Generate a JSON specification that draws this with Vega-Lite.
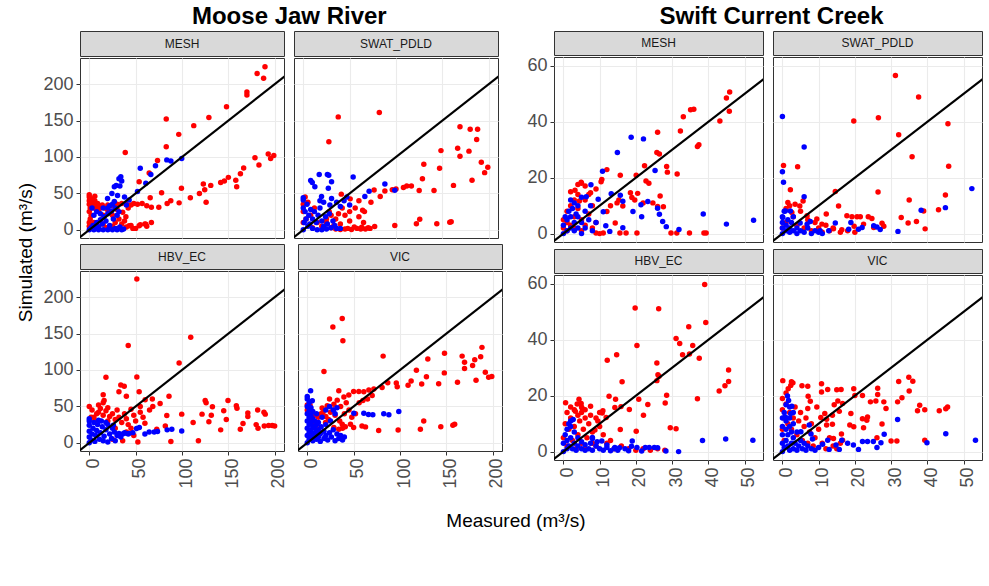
{
"$schema": "https://vega.github.io/schema/vega-lite/v6.json",
"background": "white",
"padding": {"left": 17, "top": 4, "right": 0, "bottom": 0},
"config": {
  "font": "Liberation Sans",
  "view": {"stroke": "#333333", "strokeWidth": 1},
  "axis": {"domain": false, "gridColor": "#ebebeb", "gridWidth": 1.1, "tickColor": "#333333", "tickSize": 4, "labelPadding": 3, "labelColor": "#4d4d4d", "labelFont": "Liberation Sans", "labelFontSize": 18, "title": null}
},
"datasets": {
  "mj_line": [{"obs": -12, "sim": -12}, {"obs": 215, "sim": 215}],
  "sc_line": [{"obs": -3.5, "sim": -3.5}, {"obs": 56, "sim": 56}],
  "mj_MESH": [
    {"obs":189.5,"sim":223.7,"grp":"A"},{"obs":181,"sim":214.6,"grp":"A"},{"obs":188,"sim":208,"grp":"A"},{"obs":170,"sim":189,"grp":"A"},{"obs":170,"sim":185,"grp":"A"},{"obs":148,"sim":169,"grp":"A"},{"obs":129,"sim":154,"grp":"A"},{"obs":112.7,"sim":143,"grp":"A"},{"obs":96.5,"sim":131,"grp":"A"},{"obs":83,"sim":152,"grp":"A"},{"obs":83,"sim":114,"grp":"A"},{"obs":73.6,"sim":95,"grp":"A"},{"obs":64.6,"sim":78,"grp":"A"},{"obs":38.8,"sim":106,"grp":"A"},{"obs":53.8,"sim":66,"grp":"A"},{"obs":78,"sim":51,"grp":"A"},{"obs":99.4,"sim":57,"grp":"A"},{"obs":65.7,"sim":44,"grp":"A"},{"obs":87.9,"sim":40,"grp":"A"},{"obs":96.9,"sim":37,"grp":"A"},{"obs":109,"sim":44,"grp":"A"},{"obs":118.8,"sim":50,"grp":"A"},{"obs":123,"sim":63,"grp":"A"},{"obs":124.5,"sim":55,"grp":"A"},{"obs":126,"sim":38,"grp":"A"},{"obs":131,"sim":61,"grp":"A"},{"obs":141.7,"sim":65,"grp":"A"},{"obs":145.7,"sim":67,"grp":"A"},{"obs":150,"sim":72,"grp":"A"},{"obs":158,"sim":68,"grp":"A"},{"obs":159,"sim":59,"grp":"A"},{"obs":163,"sim":77,"grp":"A"},{"obs":166.5,"sim":85,"grp":"A"},{"obs":178.7,"sim":99,"grp":"A"},{"obs":183,"sim":89,"grp":"A"},{"obs":193,"sim":104,"grp":"A"},{"obs":195.6,"sim":98,"grp":"A"},{"obs":199,"sim":102,"grp":"A"},
    {"obs":20,"sim":34,"grp":"A"},{"obs":25,"sim":33,"grp":"A"},{"obs":30,"sim":35,"grp":"A"},{"obs":35,"sim":36,"grp":"A"},{"obs":40,"sim":35,"grp":"A"},{"obs":45,"sim":34,"grp":"A"},{"obs":48,"sim":36,"grp":"A"},{"obs":52,"sim":35,"grp":"A"},{"obs":57,"sim":36,"grp":"A"},{"obs":62,"sim":33,"grp":"A"},{"obs":67,"sim":31,"grp":"A"},{"obs":75,"sim":31,"grp":"A"},{"obs":84,"sim":36,"grp":"A"},{"obs":42,"sim":30,"grp":"A"},{"obs":36,"sim":24,"grp":"A"},{"obs":30,"sim":28,"grp":"A"},
    {"obs":20,"sim":3,"grp":"A"},{"obs":25,"sim":5,"grp":"A"},{"obs":30,"sim":2,"grp":"A"},{"obs":35,"sim":8,"grp":"A"},{"obs":40,"sim":4,"grp":"A"},{"obs":45,"sim":6,"grp":"A"},{"obs":50,"sim":2,"grp":"A"},{"obs":55,"sim":7,"grp":"A"},{"obs":60,"sim":8,"grp":"A"},{"obs":62,"sim":5,"grp":"A"},{"obs":67,"sim":10,"grp":"A"},{"obs":43,"sim":5.5,"grp":"A"},{"obs":53.8,"sim":5.5,"grp":"A"},{"obs":61,"sim":7.8,"grp":"A"},{"obs":39.5,"sim":18,"grp":"A"},{"obs":47,"sim":2,"grp":"A"},{"obs":38,"sim":12,"grp":"A"},{"obs":32,"sim":15,"grp":"A"},{"obs":28,"sim":10,"grp":"A"},{"obs":25,"sim":20,"grp":"A"},
    {"obs":0,"sim":48,"grp":"A"},{"obs":0,"sim":45,"grp":"A"},{"obs":0,"sim":40,"grp":"A"},{"obs":0,"sim":35,"grp":"A"},{"obs":1,"sim":30,"grp":"A"},{"obs":0,"sim":25,"grp":"A"},{"obs":2,"sim":20,"grp":"A"},{"obs":1,"sim":15,"grp":"A"},{"obs":0,"sim":10,"grp":"A"},{"obs":3,"sim":42,"grp":"A"},{"obs":2,"sim":38,"grp":"A"},{"obs":5,"sim":30,"grp":"A"},{"obs":8,"sim":28,"grp":"A"},{"obs":10,"sim":25,"grp":"A"},{"obs":12,"sim":30,"grp":"A"},{"obs":15,"sim":20,"grp":"A"},{"obs":5,"sim":10,"grp":"A"},{"obs":10,"sim":5,"grp":"A"},{"obs":15,"sim":8,"grp":"A"},{"obs":18,"sim":3,"grp":"A"},{"obs":3,"sim":3,"grp":"A"},{"obs":6,"sim":46,"grp":"A"},{"obs":0,"sim":5,"grp":"A"},{"obs":4,"sim":35,"grp":"A"},{"obs":7,"sim":33,"grp":"A"},{"obs":10,"sim":32,"grp":"A"},{"obs":14,"sim":34,"grp":"A"},{"obs":17,"sim":30,"grp":"A"},{"obs":20,"sim":27,"grp":"A"},{"obs":6,"sim":40,"grp":"A"},{"obs":9,"sim":36,"grp":"A"},
    {"obs":0,"sim":0,"grp":"B"},{"obs":2,"sim":3,"grp":"B"},{"obs":4,"sim":6,"grp":"B"},{"obs":6,"sim":2,"grp":"B"},{"obs":8,"sim":10,"grp":"B"},{"obs":10,"sim":4,"grp":"B"},{"obs":12,"sim":14,"grp":"B"},{"obs":14,"sim":8,"grp":"B"},{"obs":16,"sim":18,"grp":"B"},{"obs":18,"sim":12,"grp":"B"},{"obs":20,"sim":22,"grp":"B"},{"obs":22,"sim":6,"grp":"B"},{"obs":24,"sim":26,"grp":"B"},{"obs":26,"sim":15,"grp":"B"},{"obs":28,"sim":30,"grp":"B"},{"obs":30,"sim":20,"grp":"B"},{"obs":32,"sim":25,"grp":"B"},{"obs":5,"sim":20,"grp":"B"},{"obs":8,"sim":25,"grp":"B"},{"obs":3,"sim":30,"grp":"B"},{"obs":12,"sim":22,"grp":"B"},{"obs":15,"sim":30,"grp":"B"},{"obs":20,"sim":30,"grp":"B"},{"obs":25,"sim":35,"grp":"B"},{"obs":10,"sim":0,"grp":"B"},{"obs":15,"sim":0,"grp":"B"},{"obs":20,"sim":0,"grp":"B"},{"obs":25,"sim":0,"grp":"B"},{"obs":30,"sim":0,"grp":"B"},{"obs":35,"sim":0,"grp":"B"},{"obs":37,"sim":1,"grp":"B"},{"obs":5,"sim":0,"grp":"B"},{"obs":28,"sim":2,"grp":"B"},{"obs":33,"sim":4,"grp":"B"},
    {"obs":34,"sim":73,"grp":"B"},{"obs":32,"sim":70,"grp":"B"},{"obs":35,"sim":67,"grp":"B"},{"obs":27,"sim":59,"grp":"B"},{"obs":29,"sim":61,"grp":"B"},{"obs":33,"sim":60,"grp":"B"},{"obs":24.4,"sim":50,"grp":"B"},{"obs":30.5,"sim":47,"grp":"B"},{"obs":27,"sim":39,"grp":"B"},{"obs":19.7,"sim":43,"grp":"B"},{"obs":55,"sim":84.5,"grp":"B"},{"obs":66.4,"sim":76,"grp":"B"},{"obs":71.4,"sim":88,"grp":"B"},{"obs":61,"sim":64,"grp":"B"},{"obs":52,"sim":52.5,"grp":"B"},{"obs":83.6,"sim":96,"grp":"B"},{"obs":88,"sim":94.5,"grp":"B"},{"obs":99.7,"sim":98,"grp":"B"},{"obs":43,"sim":41,"grp":"B"},{"obs":40,"sim":34,"grp":"B"},{"obs":22,"sim":33,"grp":"B"},{"obs":38,"sim":45,"grp":"B"}
  ],
  "mj_SWAT": [
    {"obs":37.7,"sim":155,"grp":"A"},{"obs":82,"sim":161,"grp":"A"},{"obs":27.6,"sim":121,"grp":"A"},{"obs":169,"sim":141.5,"grp":"A"},{"obs":180,"sim":138,"grp":"A"},{"obs":188,"sim":138,"grp":"A"},{"obs":187,"sim":124,"grp":"A"},{"obs":166.5,"sim":112,"grp":"A"},{"obs":169,"sim":101,"grp":"A"},{"obs":178.7,"sim":108,"grp":"A"},{"obs":148.5,"sim":108.7,"grp":"A"},{"obs":130,"sim":90,"grp":"A"},{"obs":147,"sim":84.5,"grp":"A"},{"obs":192,"sim":92.7,"grp":"A"},{"obs":199,"sim":86,"grp":"A"},{"obs":195.6,"sim":78.5,"grp":"A"},{"obs":182,"sim":68,"grp":"A"},{"obs":162,"sim":61,"grp":"A"},{"obs":128.5,"sim":70,"grp":"A"},{"obs":141,"sim":54,"grp":"A"},{"obs":125,"sim":54,"grp":"A"},{"obs":116.6,"sim":60,"grp":"A"},{"obs":108,"sim":58,"grp":"A"},{"obs":111.6,"sim":60,"grp":"A"},{"obs":96,"sim":55,"grp":"A"},{"obs":88,"sim":53.4,"grp":"A"},{"obs":100,"sim":56,"grp":"A"},{"obs":83,"sim":45.6,"grp":"A"},{"obs":76.4,"sim":54.8,"grp":"A"},{"obs":73,"sim":38,"grp":"A"},{"obs":64,"sim":27,"grp":"A"},{"obs":60,"sim":40,"grp":"A"},{"obs":50.6,"sim":42.5,"grp":"A"},{"obs":41,"sim":49,"grp":"A"},{"obs":125.6,"sim":14.6,"grp":"A"},{"obs":122,"sim":8.2,"grp":"A"},{"obs":144,"sim":8.2,"grp":"A"},{"obs":158,"sim":10.5,"grp":"A"},{"obs":159.5,"sim":11.2,"grp":"A"},{"obs":98.7,"sim":6,"grp":"A"},{"obs":77,"sim":4.6,"grp":"A"},{"obs":63,"sim":3.7,"grp":"A"},
    {"obs":20,"sim":5,"grp":"A"},{"obs":25,"sim":10,"grp":"A"},{"obs":30,"sim":3,"grp":"A"},{"obs":35,"sim":15,"grp":"A"},{"obs":40,"sim":8,"grp":"A"},{"obs":45,"sim":20,"grp":"A"},{"obs":50,"sim":12,"grp":"A"},{"obs":55,"sim":4,"grp":"A"},{"obs":60,"sim":18,"grp":"A"},{"obs":65,"sim":10,"grp":"A"},{"obs":70,"sim":3,"grp":"A"},{"obs":50,"sim":25,"grp":"A"},{"obs":42,"sim":30,"grp":"A"},{"obs":38,"sim":22,"grp":"A"},{"obs":30,"sim":20,"grp":"A"},{"obs":25,"sim":15,"grp":"A"},{"obs":15,"sim":10,"grp":"A"},{"obs":10,"sim":3,"grp":"A"},{"obs":56,"sim":30,"grp":"A"},{"obs":48,"sim":2,"grp":"A"},{"obs":66,"sim":25,"grp":"A"},{"obs":58,"sim":2,"grp":"A"},{"obs":62,"sim":1,"grp":"A"},{"obs":33,"sim":6,"grp":"A"},{"obs":28,"sim":25,"grp":"A"},{"obs":45,"sim":1,"grp":"A"},{"obs":52,"sim":0.5,"grp":"A"},{"obs":67,"sim":1,"grp":"A"},{"obs":72,"sim":2,"grp":"A"},{"obs":35,"sim":1,"grp":"A"},{"obs":40,"sim":0.5,"grp":"A"},
    {"obs":0,"sim":35,"grp":"A"},{"obs":2,"sim":45,"grp":"A"},{"obs":0,"sim":25,"grp":"A"},{"obs":5,"sim":38,"grp":"A"},{"obs":3,"sim":15,"grp":"A"},{"obs":0,"sim":10,"grp":"A"},{"obs":8,"sim":20,"grp":"A"},{"obs":12,"sim":30,"grp":"A"},
    {"obs":17.2,"sim":75.8,"grp":"B"},{"obs":26,"sim":76,"grp":"B"},{"obs":27.5,"sim":75,"grp":"B"},{"obs":9.7,"sim":65,"grp":"B"},{"obs":8,"sim":67.6,"grp":"B"},{"obs":53.8,"sim":72.6,"grp":"B"},{"obs":88,"sim":63,"grp":"B"},{"obs":71,"sim":53,"grp":"B"},{"obs":98.7,"sim":54.3,"grp":"B"},{"obs":66.4,"sim":45.7,"grp":"B"},{"obs":30.5,"sim":66,"grp":"B"},{"obs":27,"sim":57,"grp":"B"},{"obs":19.7,"sim":45.7,"grp":"B"},{"obs":12.5,"sim":59,"grp":"B"},{"obs":0,"sim":44,"grp":"B"},{"obs":0,"sim":41,"grp":"B"},{"obs":30.5,"sim":43,"grp":"B"},{"obs":28.7,"sim":34,"grp":"B"},{"obs":50,"sim":34,"grp":"B"},{"obs":40,"sim":32,"grp":"B"},
    {"obs":0,"sim":30,"grp":"B"},{"obs":2,"sim":25,"grp":"B"},{"obs":4,"sim":35,"grp":"B"},{"obs":6,"sim":20,"grp":"B"},{"obs":8,"sim":28,"grp":"B"},{"obs":10,"sim":15,"grp":"B"},{"obs":12,"sim":25,"grp":"B"},{"obs":14,"sim":10,"grp":"B"},{"obs":16,"sim":20,"grp":"B"},{"obs":18,"sim":30,"grp":"B"},{"obs":20,"sim":12,"grp":"B"},{"obs":22,"sim":5,"grp":"B"},{"obs":24,"sim":18,"grp":"B"},{"obs":26,"sim":8,"grp":"B"},{"obs":28,"sim":22,"grp":"B"},{"obs":30,"sim":3,"grp":"B"},{"obs":32,"sim":12,"grp":"B"},{"obs":34,"sim":6,"grp":"B"},{"obs":36,"sim":2,"grp":"B"},{"obs":5,"sim":5,"grp":"B"},{"obs":10,"sim":2,"grp":"B"},{"obs":15,"sim":0,"grp":"B"},{"obs":20,"sim":0,"grp":"B"},{"obs":25,"sim":1,"grp":"B"},{"obs":1,"sim":10,"grp":"B"},{"obs":3,"sim":15,"grp":"B"},{"obs":7,"sim":8,"grp":"B"},{"obs":40,"sim":2,"grp":"B"},{"obs":44,"sim":40,"grp":"B"},{"obs":47,"sim":45,"grp":"B"},{"obs":22,"sim":38,"grp":"B"},{"obs":36,"sim":38,"grp":"B"},{"obs":18,"sim":40,"grp":"B"},{"obs":0,"sim":0,"grp":"B"}
  ],
  "mj_HBV": [
    {"obs":51.3,"sim":224.7,"grp":"A"},{"obs":109.4,"sim":145,"grp":"A"},{"obs":42,"sim":133.6,"grp":"A"},{"obs":96.9,"sim":109.7,"grp":"A"},{"obs":18,"sim":90,"grp":"A"},{"obs":51.3,"sim":90.4,"grp":"A"},{"obs":34,"sim":79.4,"grp":"A"},{"obs":37.7,"sim":77.6,"grp":"A"},{"obs":32,"sim":70,"grp":"A"},{"obs":40,"sim":63.8,"grp":"A"},{"obs":53.8,"sim":70,"grp":"A"},{"obs":15,"sim":66,"grp":"A"},{"obs":16,"sim":58,"grp":"A"},{"obs":68,"sim":60,"grp":"A"},{"obs":60.3,"sim":59,"grp":"A"},{"obs":86,"sim":64,"grp":"A"},{"obs":76.4,"sim":54,"grp":"A"},{"obs":68.5,"sim":50,"grp":"A"},{"obs":99.7,"sim":39.4,"grp":"A"},{"obs":112,"sim":28,"grp":"A"},{"obs":125,"sim":58,"grp":"A"},{"obs":126,"sim":55,"grp":"A"},{"obs":132.8,"sim":49.5,"grp":"A"},{"obs":131.6,"sim":38,"grp":"A"},{"obs":121.6,"sim":39.4,"grp":"A"},{"obs":129,"sim":29,"grp":"A"},{"obs":145,"sim":44,"grp":"A"},{"obs":149.6,"sim":58,"grp":"A"},{"obs":147.8,"sim":32,"grp":"A"},{"obs":158.6,"sim":51,"grp":"A"},{"obs":159.3,"sim":47.6,"grp":"A"},{"obs":171,"sim":40.8,"grp":"A"},{"obs":171,"sim":36,"grp":"A"},{"obs":165.8,"sim":26.5,"grp":"A"},{"obs":162.9,"sim":18.7,"grp":"A"},{"obs":181.6,"sim":45,"grp":"A"},{"obs":188.4,"sim":42,"grp":"A"},{"obs":189.8,"sim":39.4,"grp":"A"},{"obs":188.7,"sim":23,"grp":"A"},{"obs":182,"sim":20,"grp":"A"},{"obs":193.4,"sim":23.7,"grp":"A"},{"obs":197.3,"sim":23.7,"grp":"A"},{"obs":199.9,"sim":23,"grp":"A"},{"obs":180,"sim":25,"grp":"A"},{"obs":141.7,"sim":17.8,"grp":"A"},{"obs":82,"sim":23,"grp":"A"},{"obs":83.6,"sim":37.5,"grp":"A"},{"obs":52.4,"sim":1.2,"grp":"A"},{"obs":88,"sim":1.7,"grp":"A"},{"obs":117.7,"sim":3,"grp":"A"},{"obs":72.8,"sim":18.7,"grp":"A"},{"obs":65,"sim":45,"grp":"A"},
    {"obs":0,"sim":50,"grp":"A"},{"obs":3,"sim":45,"grp":"A"},{"obs":5,"sim":35,"grp":"A"},{"obs":8,"sim":40,"grp":"A"},{"obs":10,"sim":42,"grp":"A"},{"obs":12,"sim":47,"grp":"A"},{"obs":15,"sim":38,"grp":"A"},{"obs":18,"sim":44,"grp":"A"},{"obs":20,"sim":30,"grp":"A"},{"obs":22,"sim":36,"grp":"A"},{"obs":25,"sim":40,"grp":"A"},{"obs":28,"sim":32,"grp":"A"},{"obs":30,"sim":45,"grp":"A"},{"obs":32,"sim":35,"grp":"A"},{"obs":35,"sim":28,"grp":"A"},{"obs":38,"sim":40,"grp":"A"},{"obs":40,"sim":33,"grp":"A"},{"obs":42,"sim":25,"grp":"A"},{"obs":45,"sim":46,"grp":"A"},{"obs":48,"sim":38,"grp":"A"},{"obs":50,"sim":30,"grp":"A"},{"obs":55,"sim":42,"grp":"A"},{"obs":58,"sim":35,"grp":"A"},{"obs":60,"sim":27,"grp":"A"},{"obs":28,"sim":20,"grp":"A"},{"obs":33,"sim":10,"grp":"A"},{"obs":36,"sim":3,"grp":"A"},{"obs":25,"sim":5,"grp":"A"},{"obs":40,"sim":15,"grp":"A"},{"obs":45,"sim":20,"grp":"A"},{"obs":48,"sim":10,"grp":"A"},{"obs":15,"sim":55,"grp":"A"},{"obs":20,"sim":48,"grp":"A"},{"obs":10,"sim":52,"grp":"A"},{"obs":6,"sim":30,"grp":"A"},{"obs":2,"sim":35,"grp":"A"},{"obs":55,"sim":50,"grp":"A"},
    {"obs":0,"sim":0,"grp":"B"},{"obs":0,"sim":8,"grp":"B"},{"obs":0,"sim":16,"grp":"B"},{"obs":0,"sim":24,"grp":"B"},{"obs":0,"sim":30,"grp":"B"},{"obs":0,"sim":33,"grp":"B"},{"obs":2,"sim":4,"grp":"B"},{"obs":3,"sim":12,"grp":"B"},{"obs":4,"sim":20,"grp":"B"},{"obs":5,"sim":28,"grp":"B"},{"obs":6,"sim":2,"grp":"B"},{"obs":7,"sim":10,"grp":"B"},{"obs":8,"sim":17,"grp":"B"},{"obs":9,"sim":25,"grp":"B"},{"obs":10,"sim":31,"grp":"B"},{"obs":11,"sim":5,"grp":"B"},{"obs":12,"sim":14,"grp":"B"},{"obs":14,"sim":22,"grp":"B"},{"obs":15,"sim":3,"grp":"B"},{"obs":16,"sim":9,"grp":"B"},{"obs":18,"sim":18,"grp":"B"},{"obs":20,"sim":25,"grp":"B"},{"obs":20,"sim":1,"grp":"B"},{"obs":22,"sim":12,"grp":"B"},{"obs":24,"sim":6,"grp":"B"},{"obs":25,"sim":20,"grp":"B"},{"obs":27,"sim":15,"grp":"B"},{"obs":28,"sim":3,"grp":"B"},{"obs":30,"sim":10,"grp":"B"},{"obs":32,"sim":13,"grp":"B"},{"obs":34,"sim":8,"grp":"B"},{"obs":36,"sim":12,"grp":"B"},{"obs":38,"sim":14,"grp":"B"},{"obs":40,"sim":13,"grp":"B"},{"obs":42,"sim":12,"grp":"B"},{"obs":18,"sim":28,"grp":"B"},{"obs":13,"sim":30,"grp":"B"},{"obs":26,"sim":24,"grp":"B"},
    {"obs":51,"sim":19.6,"grp":"B"},{"obs":54,"sim":21,"grp":"B"},{"obs":60,"sim":12.2,"grp":"B"},{"obs":64.6,"sim":15,"grp":"B"},{"obs":70,"sim":15,"grp":"B"},{"obs":73.6,"sim":15.5,"grp":"B"},{"obs":84,"sim":17.8,"grp":"B"},{"obs":89,"sim":18.7,"grp":"B"},{"obs":99.7,"sim":16.4,"grp":"B"},{"obs":43,"sim":13,"grp":"B"},{"obs":47,"sim":14,"grp":"B"}
  ],
  "mj_VIC": [
    {"obs":27.6,"sim":159,"grp":"A"},{"obs":37.7,"sim":170.5,"grp":"A"},{"obs":38.4,"sim":140,"grp":"A"},{"obs":81.8,"sim":119,"grp":"A"},{"obs":18,"sim":98,"grp":"A"},{"obs":130,"sim":115,"grp":"A"},{"obs":148,"sim":123,"grp":"A"},{"obs":167,"sim":119,"grp":"A"},{"obs":169.6,"sim":110.6,"grp":"A"},{"obs":169.6,"sim":102,"grp":"A"},{"obs":180.6,"sim":114,"grp":"A"},{"obs":178.3,"sim":106,"grp":"A"},{"obs":188.4,"sim":131,"grp":"A"},{"obs":187,"sim":118,"grp":"A"},{"obs":192,"sim":97,"grp":"A"},{"obs":195.6,"sim":90,"grp":"A"},{"obs":199,"sim":91,"grp":"A"},{"obs":182,"sim":86,"grp":"A"},{"obs":162,"sim":83,"grp":"A"},{"obs":147.8,"sim":96,"grp":"A"},{"obs":141.7,"sim":81,"grp":"A"},{"obs":128.5,"sim":90.6,"grp":"A"},{"obs":123.4,"sim":80.7,"grp":"A"},{"obs":117.7,"sim":99.6,"grp":"A"},{"obs":112,"sim":85,"grp":"A"},{"obs":108.7,"sim":79,"grp":"A"},{"obs":96,"sim":82,"grp":"A"},{"obs":97,"sim":77,"grp":"A"},{"obs":86.8,"sim":82.6,"grp":"A"},{"obs":80.7,"sim":76,"grp":"A"},{"obs":71.8,"sim":74,"grp":"A"},{"obs":66.4,"sim":72.5,"grp":"A"},{"obs":61,"sim":70,"grp":"A"},{"obs":55.6,"sim":70.5,"grp":"A"},{"obs":50,"sim":70.5,"grp":"A"},{"obs":44.8,"sim":65.6,"grp":"A"},{"obs":39.5,"sim":62.8,"grp":"A"},{"obs":34,"sim":71.5,"grp":"A"},{"obs":32.3,"sim":58.6,"grp":"A"},{"obs":28.7,"sim":53,"grp":"A"},{"obs":21.5,"sim":51,"grp":"A"},{"obs":16,"sim":47.7,"grp":"A"},{"obs":1.8,"sim":50.8,"grp":"A"},{"obs":159,"sim":25.6,"grp":"A"},{"obs":157,"sim":24,"grp":"A"},{"obs":144,"sim":22,"grp":"A"},{"obs":125.6,"sim":30,"grp":"A"},{"obs":122,"sim":18.7,"grp":"A"},{"obs":98,"sim":17.7,"grp":"A"},{"obs":77,"sim":16.8,"grp":"A"},{"obs":62.8,"sim":21.9,"grp":"A"},{"obs":59,"sim":23,"grp":"A"},{"obs":50,"sim":21,"grp":"A"},{"obs":46.6,"sim":25.6,"grp":"A"},{"obs":41,"sim":22,"grp":"A"},{"obs":37.7,"sim":25.6,"grp":"A"},{"obs":34,"sim":18.7,"grp":"A"},{"obs":28.7,"sim":21,"grp":"A"},{"obs":23,"sim":32,"grp":"A"},{"obs":19.7,"sim":27.9,"grp":"A"},{"obs":16.9,"sim":41.6,"grp":"A"},
    {"obs":0,"sim":45,"grp":"A"},{"obs":2,"sim":40,"grp":"A"},{"obs":4,"sim":30,"grp":"A"},{"obs":6,"sim":25,"grp":"A"},{"obs":8,"sim":38,"grp":"A"},{"obs":10,"sim":20,"grp":"A"},{"obs":12,"sim":35,"grp":"A"},{"obs":14,"sim":15,"grp":"A"},{"obs":3,"sim":52,"grp":"A"},{"obs":0,"sim":52,"grp":"A"},{"obs":5,"sim":10,"grp":"A"},{"obs":15,"sim":40,"grp":"A"},{"obs":20,"sim":36,"grp":"A"},{"obs":25,"sim":42,"grp":"A"},{"obs":30,"sim":38,"grp":"A"},{"obs":35,"sim":30,"grp":"A"},{"obs":38,"sim":20,"grp":"A"},{"obs":40,"sim":40,"grp":"A"},{"obs":45,"sim":45,"grp":"A"},{"obs":48,"sim":35,"grp":"A"},{"obs":52,"sim":40,"grp":"A"},{"obs":56,"sim":55,"grp":"A"},{"obs":60,"sim":58,"grp":"A"},{"obs":65,"sim":60,"grp":"A"},{"obs":70,"sim":65,"grp":"A"},{"obs":42,"sim":55,"grp":"A"},{"obs":36,"sim":50,"grp":"A"},{"obs":28,"sim":45,"grp":"A"},{"obs":24,"sim":60,"grp":"A"},
    {"obs":0,"sim":0,"grp":"B"},{"obs":0,"sim":10,"grp":"B"},{"obs":0,"sim":20,"grp":"B"},{"obs":0,"sim":30,"grp":"B"},{"obs":0,"sim":40,"grp":"B"},{"obs":0,"sim":50,"grp":"B"},{"obs":0,"sim":60,"grp":"B"},{"obs":2,"sim":5,"grp":"B"},{"obs":2,"sim":15,"grp":"B"},{"obs":2,"sim":25,"grp":"B"},{"obs":2,"sim":35,"grp":"B"},{"obs":2,"sim":45,"grp":"B"},{"obs":2,"sim":55,"grp":"B"},{"obs":4,"sim":8,"grp":"B"},{"obs":4,"sim":18,"grp":"B"},{"obs":4,"sim":28,"grp":"B"},{"obs":4,"sim":38,"grp":"B"},{"obs":4,"sim":48,"grp":"B"},{"obs":6,"sim":3,"grp":"B"},{"obs":6,"sim":13,"grp":"B"},{"obs":6,"sim":23,"grp":"B"},{"obs":6,"sim":33,"grp":"B"},{"obs":6,"sim":43,"grp":"B"},{"obs":8,"sim":10,"grp":"B"},{"obs":8,"sim":20,"grp":"B"},{"obs":8,"sim":30,"grp":"B"},{"obs":10,"sim":5,"grp":"B"},{"obs":10,"sim":15,"grp":"B"},{"obs":10,"sim":25,"grp":"B"},{"obs":10,"sim":40,"grp":"B"},{"obs":12,"sim":8,"grp":"B"},{"obs":12,"sim":18,"grp":"B"},{"obs":12,"sim":28,"grp":"B"},{"obs":14,"sim":2,"grp":"B"},{"obs":14,"sim":12,"grp":"B"},{"obs":15,"sim":22,"grp":"B"},{"obs":16,"sim":35,"grp":"B"},{"obs":18,"sim":6,"grp":"B"},{"obs":18,"sim":16,"grp":"B"},{"obs":20,"sim":10,"grp":"B"},{"obs":20,"sim":25,"grp":"B"},{"obs":22,"sim":4,"grp":"B"},{"obs":24,"sim":14,"grp":"B"},{"obs":25,"sim":30,"grp":"B"},{"obs":26,"sim":8,"grp":"B"},{"obs":28,"sim":18,"grp":"B"},{"obs":30,"sim":3,"grp":"B"},{"obs":30,"sim":40,"grp":"B"},{"obs":32,"sim":12,"grp":"B"},{"obs":34,"sim":6,"grp":"B"},{"obs":36,"sim":10,"grp":"B"},{"obs":38,"sim":4,"grp":"B"},{"obs":40,"sim":8,"grp":"B"},{"obs":28,"sim":45,"grp":"B"},{"obs":20,"sim":45,"grp":"B"},{"obs":24,"sim":50,"grp":"B"},{"obs":32,"sim":48,"grp":"B"},{"obs":3.6,"sim":71.6,"grp":"B"},{"obs":0,"sim":63.7,"grp":"B"},{"obs":5.4,"sim":57.8,"grp":"B"},
    {"obs":50.2,"sim":40.7,"grp":"B"},{"obs":61,"sim":40.7,"grp":"B"},{"obs":66,"sim":39,"grp":"B"},{"obs":70.7,"sim":38.4,"grp":"B"},{"obs":82.5,"sim":39.8,"grp":"B"},{"obs":88,"sim":38.4,"grp":"B"},{"obs":98.7,"sim":43,"grp":"B"}
  ],
  "sc_MESH": [
    {"obs":45.9,"sim":50.7,"grp":"A"},{"obs":45,"sim":48.5,"grp":"A"},{"obs":45.8,"sim":43.8,"grp":"A"},{"obs":43.2,"sim":40.3,"grp":"A"},{"obs":36,"sim":44.5,"grp":"A"},{"obs":35.1,"sim":44.3,"grp":"A"},{"obs":33.1,"sim":41.8,"grp":"A"},{"obs":32.3,"sim":36.7,"grp":"A"},{"obs":37.4,"sim":31.8,"grp":"A"},{"obs":37,"sim":31.2,"grp":"A"},{"obs":26,"sim":36.3,"grp":"A"},{"obs":25.8,"sim":29,"grp":"A"},{"obs":26.5,"sim":28.5,"grp":"A"},{"obs":28.5,"sim":24,"grp":"A"},{"obs":28.7,"sim":22,"grp":"A"},{"obs":31.4,"sim":21.3,"grp":"A"},{"obs":22.4,"sim":24.3,"grp":"A"},{"obs":22.8,"sim":18.8,"grp":"A"},{"obs":23.6,"sim":18,"grp":"A"},{"obs":20.1,"sim":20.9,"grp":"A"},{"obs":15.7,"sim":20.9,"grp":"A"},{"obs":12,"sim":22.9,"grp":"A"},{"obs":10.6,"sim":19.4,"grp":"A"},{"obs":10.4,"sim":18.6,"grp":"A"},{"obs":4.9,"sim":18.4,"grp":"A"},{"obs":4,"sim":17.6,"grp":"A"},{"obs":3.2,"sim":15.5,"grp":"A"},{"obs":4.4,"sim":11.7,"grp":"A"},{"obs":7.5,"sim":14.6,"grp":"A"},{"obs":18.5,"sim":14.6,"grp":"A"},{"obs":18.9,"sim":12.9,"grp":"A"},{"obs":19.7,"sim":12,"grp":"A"},{"obs":20.5,"sim":14.4,"grp":"A"},{"obs":22,"sim":11,"grp":"A"},{"obs":26.7,"sim":13.5,"grp":"A"},{"obs":27.6,"sim":9.6,"grp":"A"},{"obs":24.7,"sim":11,"grp":"A"},{"obs":15.3,"sim":12,"grp":"A"},{"obs":16.4,"sim":9.9,"grp":"A"},{"obs":14.8,"sim":11,"grp":"A"},{"obs":13,"sim":10,"grp":"A"},{"obs":12,"sim":7.9,"grp":"A"},{"obs":14.3,"sim":3.8,"grp":"A"},{"obs":15.6,"sim":0.2,"grp":"A"},{"obs":17.3,"sim":0.2,"grp":"A"},{"obs":20.3,"sim":0.2,"grp":"A"},{"obs":11,"sim":0.2,"grp":"A"},{"obs":9,"sim":0.2,"grp":"A"},{"obs":29.7,"sim":0.2,"grp":"A"},{"obs":31.3,"sim":0.2,"grp":"A"},{"obs":34.8,"sim":0.2,"grp":"A"},{"obs":38.8,"sim":0.2,"grp":"A"},{"obs":39.4,"sim":0.2,"grp":"A"},{"obs":26,"sim":9.7,"grp":"A"},
    {"obs":0,"sim":2,"grp":"A"},{"obs":0,"sim":5,"grp":"A"},{"obs":1,"sim":1,"grp":"A"},{"obs":1,"sim":4,"grp":"A"},{"obs":1,"sim":8,"grp":"A"},{"obs":2,"sim":3,"grp":"A"},{"obs":2,"sim":10,"grp":"A"},{"obs":3,"sim":6,"grp":"A"},{"obs":3,"sim":2,"grp":"A"},{"obs":4,"sim":9,"grp":"A"},{"obs":5,"sim":1,"grp":"A"},{"obs":5,"sim":5,"grp":"A"},{"obs":6,"sim":12,"grp":"A"},{"obs":6,"sim":3,"grp":"A"},{"obs":7,"sim":7,"grp":"A"},{"obs":8,"sim":2,"grp":"A"},{"obs":8,"sim":10,"grp":"A"},{"obs":9,"sim":4,"grp":"A"},{"obs":10,"sim":0,"grp":"A"},{"obs":4,"sim":14,"grp":"A"},{"obs":2,"sim":15,"grp":"A"},{"obs":6,"sim":17,"grp":"A"},{"obs":5,"sim":18,"grp":"A"},{"obs":9,"sim":16,"grp":"A"},{"obs":7,"sim":14,"grp":"A"},{"obs":3,"sim":12,"grp":"A"},
    {"obs":18.7,"sim":34.5,"grp":"B"},{"obs":22.1,"sim":33.9,"grp":"B"},{"obs":14.9,"sim":29,"grp":"B"},{"obs":10.8,"sim":22.3,"grp":"B"},{"obs":25.3,"sim":22.6,"grp":"B"},{"obs":7.6,"sim":17.5,"grp":"B"},{"obs":6.3,"sim":13.2,"grp":"B"},{"obs":9.6,"sim":12.3,"grp":"B"},{"obs":13.2,"sim":14.3,"grp":"B"},{"obs":15.7,"sim":13.7,"grp":"B"},{"obs":16.4,"sim":11.6,"grp":"B"},{"obs":19.2,"sim":7.9,"grp":"B"},{"obs":21.4,"sim":10.3,"grp":"B"},{"obs":21.6,"sim":6,"grp":"B"},{"obs":23.3,"sim":11.5,"grp":"B"},{"obs":26,"sim":9.1,"grp":"B"},{"obs":26.5,"sim":6.9,"grp":"B"},{"obs":27.4,"sim":4.3,"grp":"B"},{"obs":28.4,"sim":2.5,"grp":"B"},{"obs":31.9,"sim":1.5,"grp":"B"},{"obs":16.4,"sim":2.1,"grp":"B"},{"obs":12.8,"sim":0.8,"grp":"B"},{"obs":11,"sim":7.8,"grp":"B"},{"obs":38.6,"sim":7,"grp":"B"},{"obs":45,"sim":3.4,"grp":"B"},{"obs":52.5,"sim":4.8,"grp":"B"},{"obs":11.7,"sim":2.8,"grp":"B"},
    {"obs":0,"sim":0,"grp":"B"},{"obs":0,"sim":3,"grp":"B"},{"obs":0.5,"sim":6,"grp":"B"},{"obs":1,"sim":1,"grp":"B"},{"obs":1,"sim":5,"grp":"B"},{"obs":1.5,"sim":8,"grp":"B"},{"obs":2,"sim":2,"grp":"B"},{"obs":2,"sim":6,"grp":"B"},{"obs":2.5,"sim":9,"grp":"B"},{"obs":3,"sim":1,"grp":"B"},{"obs":3,"sim":4,"grp":"B"},{"obs":3.5,"sim":7,"grp":"B"},{"obs":4,"sim":2,"grp":"B"},{"obs":4,"sim":6,"grp":"B"},{"obs":5,"sim":0,"grp":"B"},{"obs":5,"sim":4,"grp":"B"},{"obs":6,"sim":2,"grp":"B"},{"obs":6,"sim":8,"grp":"B"},{"obs":7,"sim":5,"grp":"B"},{"obs":7.5,"sim":10,"grp":"B"},{"obs":8,"sim":1,"grp":"B"},{"obs":9,"sim":4,"grp":"B"},{"obs":2,"sim":12,"grp":"B"},{"obs":3,"sim":11,"grp":"B"},{"obs":5,"sim":13,"grp":"B"},{"obs":4,"sim":10,"grp":"B"}
  ],
  "sc_SWAT": [
    {"obs":31.2,"sim":56.6,"grp":"A"},{"obs":37.6,"sim":48.9,"grp":"A"},{"obs":19.7,"sim":40.3,"grp":"A"},{"obs":26.5,"sim":41.5,"grp":"A"},{"obs":45.7,"sim":39.3,"grp":"A"},{"obs":32.1,"sim":35.4,"grp":"A"},{"obs":35.8,"sim":27.5,"grp":"A"},{"obs":45.9,"sim":24.1,"grp":"A"},{"obs":0.3,"sim":24.4,"grp":"A"},{"obs":4.2,"sim":23.9,"grp":"A"},{"obs":2.2,"sim":15.7,"grp":"A"},{"obs":14.6,"sim":15.1,"grp":"A"},{"obs":26.4,"sim":14.9,"grp":"A"},{"obs":35,"sim":12,"grp":"A"},{"obs":45,"sim":13.8,"grp":"A"},{"obs":43.1,"sim":8.5,"grp":"A"},{"obs":39,"sim":8.1,"grp":"A"},{"obs":32.8,"sim":5.8,"grp":"A"},{"obs":37,"sim":4.3,"grp":"A"},{"obs":34.7,"sim":3.8,"grp":"A"},{"obs":39.4,"sim":1.7,"grp":"A"},{"obs":15.5,"sim":9.9,"grp":"A"},{"obs":12.1,"sim":7,"grp":"A"},{"obs":17.8,"sim":6.4,"grp":"A"},{"obs":19.2,"sim":6,"grp":"A"},{"obs":20.6,"sim":6,"grp":"A"},{"obs":21.5,"sim":6,"grp":"A"},{"obs":23.7,"sim":6,"grp":"A"},{"obs":24.7,"sim":5.4,"grp":"A"},{"obs":25.2,"sim":2.2,"grp":"A"},{"obs":27.5,"sim":3.7,"grp":"A"},{"obs":28,"sim":2.6,"grp":"A"},{"obs":22.4,"sim":3.4,"grp":"A"},{"obs":19.8,"sim":2.6,"grp":"A"},{"obs":16.4,"sim":1.4,"grp":"A"},{"obs":14.1,"sim":1.7,"grp":"A"},{"obs":5.7,"sim":11.7,"grp":"A"},{"obs":4.8,"sim":9.9,"grp":"A"},{"obs":3.5,"sim":10.5,"grp":"A"},{"obs":1.5,"sim":11.1,"grp":"A"},{"obs":2.6,"sim":7.6,"grp":"A"},{"obs":6.8,"sim":6.4,"grp":"A"},{"obs":9.5,"sim":5.2,"grp":"A"},{"obs":10.9,"sim":3.4,"grp":"A"},
    {"obs":0,"sim":2,"grp":"A"},{"obs":1,"sim":4,"grp":"A"},{"obs":2,"sim":1,"grp":"A"},{"obs":3,"sim":6,"grp":"A"},{"obs":4,"sim":3,"grp":"A"},{"obs":5,"sim":8,"grp":"A"},{"obs":6,"sim":2,"grp":"A"},{"obs":7,"sim":5,"grp":"A"},{"obs":8,"sim":1,"grp":"A"},{"obs":9,"sim":4,"grp":"A"},{"obs":10,"sim":2,"grp":"A"},{"obs":11,"sim":0.5,"grp":"A"},{"obs":12,"sim":3,"grp":"A"},{"obs":13,"sim":1,"grp":"A"},{"obs":14,"sim":2,"grp":"A"},{"obs":16,"sim":0.5,"grp":"A"},{"obs":18,"sim":1,"grp":"A"},{"obs":20,"sim":0.5,"grp":"A"},{"obs":1,"sim":9,"grp":"A"},{"obs":2,"sim":10,"grp":"A"},
    {"obs":0,"sim":41.9,"grp":"B"},{"obs":6,"sim":31,"grp":"B"},{"obs":0,"sim":22.1,"grp":"B"},{"obs":0.3,"sim":18.4,"grp":"B"},{"obs":6,"sim":13.2,"grp":"B"},{"obs":52.3,"sim":16.1,"grp":"B"},{"obs":38.3,"sim":8.4,"grp":"B"},{"obs":45,"sim":9.3,"grp":"B"},{"obs":31.9,"sim":0.8,"grp":"B"},{"obs":25.2,"sim":2.8,"grp":"B"},{"obs":27,"sim":1.5,"grp":"B"},{"obs":26.1,"sim":2.4,"grp":"B"},{"obs":22,"sim":2.2,"grp":"B"},{"obs":21,"sim":1.6,"grp":"B"},{"obs":18.9,"sim":4,"grp":"B"},{"obs":18.3,"sim":1.6,"grp":"B"},{"obs":14.6,"sim":3.8,"grp":"B"},{"obs":12.8,"sim":1,"grp":"B"},{"obs":10.4,"sim":1,"grp":"B"},{"obs":7.7,"sim":4.3,"grp":"B"},{"obs":6.8,"sim":3.4,"grp":"B"},{"obs":4.9,"sim":3.8,"grp":"B"},{"obs":2.2,"sim":8.1,"grp":"B"},{"obs":0.8,"sim":8.1,"grp":"B"},{"obs":0.1,"sim":5.8,"grp":"B"},
    {"obs":0,"sim":0,"grp":"B"},{"obs":0,"sim":2,"grp":"B"},{"obs":0,"sim":4,"grp":"B"},{"obs":0,"sim":6,"grp":"B"},{"obs":0.5,"sim":8,"grp":"B"},{"obs":1,"sim":1,"grp":"B"},{"obs":1,"sim":3,"grp":"B"},{"obs":1.5,"sim":5,"grp":"B"},{"obs":2,"sim":0.5,"grp":"B"},{"obs":2,"sim":2,"grp":"B"},{"obs":2.5,"sim":4,"grp":"B"},{"obs":3,"sim":1,"grp":"B"},{"obs":3,"sim":6,"grp":"B"},{"obs":4,"sim":0,"grp":"B"},{"obs":4,"sim":2,"grp":"B"},{"obs":5,"sim":1,"grp":"B"},{"obs":6,"sim":0.5,"grp":"B"},{"obs":7,"sim":2,"grp":"B"},{"obs":8,"sim":0,"grp":"B"},{"obs":9,"sim":1,"grp":"B"},{"obs":10,"sim":0.5,"grp":"B"},{"obs":11,"sim":0,"grp":"B"}
  ],
  "sc_HBV": [
    {"obs":39,"sim":59.8,"grp":"A"},{"obs":19.8,"sim":51.4,"grp":"A"},{"obs":26.3,"sim":51.1,"grp":"A"},{"obs":39.3,"sim":46.2,"grp":"A"},{"obs":34.6,"sim":44.7,"grp":"A"},{"obs":31.1,"sim":40.5,"grp":"A"},{"obs":32.1,"sim":38.7,"grp":"A"},{"obs":35.7,"sim":38,"grp":"A"},{"obs":20.3,"sim":38,"grp":"A"},{"obs":32.9,"sim":34.7,"grp":"A"},{"obs":34.8,"sim":34.9,"grp":"A"},{"obs":37.5,"sim":33.4,"grp":"A"},{"obs":14.7,"sim":34.7,"grp":"A"},{"obs":12.1,"sim":32.7,"grp":"A"},{"obs":25.8,"sim":31.7,"grp":"A"},{"obs":26.1,"sim":27.5,"grp":"A"},{"obs":26.4,"sim":27,"grp":"A"},{"obs":25.8,"sim":25.4,"grp":"A"},{"obs":16.2,"sim":25,"grp":"A"},{"obs":45.6,"sim":29.2,"grp":"A"},{"obs":45.6,"sim":25.1,"grp":"A"},{"obs":44.6,"sim":23.6,"grp":"A"},{"obs":43,"sim":21.7,"grp":"A"},{"obs":37,"sim":18.9,"grp":"A"},{"obs":28.5,"sim":20.2,"grp":"A"},{"obs":28.1,"sim":17.4,"grp":"A"},{"obs":20.8,"sim":18.7,"grp":"A"},{"obs":23.3,"sim":16.9,"grp":"A"},{"obs":22.1,"sim":13,"grp":"A"},{"obs":14.4,"sim":18.7,"grp":"A"},{"obs":12.6,"sim":19.8,"grp":"A"},{"obs":18.2,"sim":15.1,"grp":"A"},{"obs":15.9,"sim":16.1,"grp":"A"},{"obs":14.2,"sim":15.8,"grp":"A"},{"obs":10.9,"sim":14.6,"grp":"A"},{"obs":10.7,"sim":13.8,"grp":"A"},{"obs":11.8,"sim":12.2,"grp":"A"},{"obs":9.5,"sim":11,"grp":"A"},{"obs":8.7,"sim":7.7,"grp":"A"},{"obs":15.7,"sim":7.9,"grp":"A"},{"obs":20.1,"sim":7.3,"grp":"A"},{"obs":29.5,"sim":8.5,"grp":"A"},{"obs":31.1,"sim":8.2,"grp":"A"},{"obs":7.5,"sim":16.2,"grp":"A"},{"obs":0.6,"sim":17.5,"grp":"A"},{"obs":4.3,"sim":18.7,"grp":"A"},{"obs":4.9,"sim":17.2,"grp":"A"},{"obs":5.2,"sim":15.4,"grp":"A"},{"obs":3.3,"sim":14.4,"grp":"A"},
    {"obs":0,"sim":5,"grp":"A"},{"obs":0.5,"sim":10,"grp":"A"},{"obs":1,"sim":14,"grp":"A"},{"obs":1,"sim":2,"grp":"A"},{"obs":1.5,"sim":8,"grp":"A"},{"obs":2,"sim":12,"grp":"A"},{"obs":2.5,"sim":4,"grp":"A"},{"obs":3,"sim":15,"grp":"A"},{"obs":3,"sim":9,"grp":"A"},{"obs":3.5,"sim":1,"grp":"A"},{"obs":4,"sim":13,"grp":"A"},{"obs":4,"sim":6,"grp":"A"},{"obs":4.5,"sim":11,"grp":"A"},{"obs":5,"sim":3,"grp":"A"},{"obs":5,"sim":14,"grp":"A"},{"obs":5.5,"sim":8,"grp":"A"},{"obs":6,"sim":12,"grp":"A"},{"obs":6,"sim":1,"grp":"A"},{"obs":6.5,"sim":5,"grp":"A"},{"obs":7,"sim":10,"grp":"A"},{"obs":7.5,"sim":13,"grp":"A"},{"obs":8,"sim":3,"grp":"A"},{"obs":8,"sim":7,"grp":"A"},{"obs":3.8,"sim":17,"grp":"A"},{"obs":5,"sim":16,"grp":"A"},{"obs":2,"sim":16,"grp":"A"},{"obs":6,"sim":15,"grp":"A"},{"obs":9,"sim":12,"grp":"A"},{"obs":10,"sim":9,"grp":"A"},{"obs":11,"sim":6,"grp":"A"},{"obs":12,"sim":3,"grp":"A"},{"obs":14,"sim":1,"grp":"A"},{"obs":16,"sim":2,"grp":"A"},{"obs":18,"sim":1,"grp":"A"},{"obs":20,"sim":0.5,"grp":"A"},{"obs":22,"sim":1,"grp":"A"},{"obs":24,"sim":0.5,"grp":"A"},{"obs":26,"sim":1,"grp":"A"},{"obs":28,"sim":0.5,"grp":"A"},{"obs":10,"sim":14,"grp":"A"},{"obs":9,"sim":2,"grp":"A"},{"obs":13,"sim":4,"grp":"A"},
    {"obs":52.3,"sim":4.1,"grp":"B"},{"obs":44.8,"sim":4.5,"grp":"B"},{"obs":38.4,"sim":4,"grp":"B"},{"obs":31.8,"sim":0,"grp":"B"},{"obs":28.3,"sim":0.2,"grp":"B"},{"obs":26,"sim":1.4,"grp":"B"},{"obs":25.1,"sim":1.5,"grp":"B"},{"obs":23.7,"sim":1.5,"grp":"B"},{"obs":22.6,"sim":1.5,"grp":"B"},{"obs":21.6,"sim":0.2,"grp":"B"},{"obs":20.3,"sim":1.5,"grp":"B"},{"obs":19,"sim":3.8,"grp":"B"},{"obs":18.8,"sim":1.9,"grp":"B"},{"obs":15.5,"sim":1.4,"grp":"B"},{"obs":14.2,"sim":1.5,"grp":"B"},{"obs":12,"sim":2.4,"grp":"B"},{"obs":10.6,"sim":3.8,"grp":"B"},{"obs":9.3,"sim":3.5,"grp":"B"},{"obs":8,"sim":4.7,"grp":"B"},{"obs":8,"sim":5.1,"grp":"B"},{"obs":2.7,"sim":11.5,"grp":"B"},
    {"obs":0,"sim":0,"grp":"B"},{"obs":0,"sim":3,"grp":"B"},{"obs":0.5,"sim":6,"grp":"B"},{"obs":1,"sim":1,"grp":"B"},{"obs":1,"sim":4,"grp":"B"},{"obs":1,"sim":8,"grp":"B"},{"obs":1.5,"sim":2,"grp":"B"},{"obs":2,"sim":5,"grp":"B"},{"obs":2,"sim":9,"grp":"B"},{"obs":2.5,"sim":1,"grp":"B"},{"obs":3,"sim":3,"grp":"B"},{"obs":3,"sim":7,"grp":"B"},{"obs":3.5,"sim":0.5,"grp":"B"},{"obs":4,"sim":2,"grp":"B"},{"obs":4,"sim":5,"grp":"B"},{"obs":5,"sim":1,"grp":"B"},{"obs":5,"sim":3.5,"grp":"B"},{"obs":6,"sim":0.5,"grp":"B"},{"obs":6,"sim":2.5,"grp":"B"},{"obs":7,"sim":1,"grp":"B"},{"obs":7.5,"sim":3,"grp":"B"},{"obs":8,"sim":0.5,"grp":"B"},{"obs":9,"sim":2,"grp":"B"},{"obs":10,"sim":1,"grp":"B"},{"obs":11,"sim":0.5,"grp":"B"},{"obs":12,"sim":1.5,"grp":"B"},{"obs":13,"sim":0.3,"grp":"B"},{"obs":14,"sim":1,"grp":"B"},{"obs":15,"sim":0.5,"grp":"B"},{"obs":17,"sim":1,"grp":"B"},{"obs":18,"sim":0.3,"grp":"B"},{"obs":2,"sim":11,"grp":"B"},{"obs":1.5,"sim":10,"grp":"B"}
  ],
  "sc_VIC": [
    {"obs":0.1,"sim":25.4,"grp":"A"},{"obs":2.5,"sim":25,"grp":"A"},{"obs":2.9,"sim":24.6,"grp":"A"},{"obs":2.3,"sim":23.7,"grp":"A"},{"obs":1.6,"sim":22.5,"grp":"A"},{"obs":5.4,"sim":23.6,"grp":"A"},{"obs":7,"sim":23.4,"grp":"A"},{"obs":10.8,"sim":24.3,"grp":"A"},{"obs":10.8,"sim":21.3,"grp":"A"},{"obs":12.5,"sim":22.2,"grp":"A"},{"obs":15,"sim":22.1,"grp":"A"},{"obs":16.2,"sim":22.2,"grp":"A"},{"obs":19.7,"sim":22.5,"grp":"A"},{"obs":20,"sim":20.1,"grp":"A"},{"obs":22.1,"sim":20.1,"grp":"A"},{"obs":26.3,"sim":22.7,"grp":"A"},{"obs":26.3,"sim":20.4,"grp":"A"},{"obs":25.8,"sim":18.1,"grp":"A"},{"obs":28,"sim":17.8,"grp":"A"},{"obs":28.6,"sim":15.4,"grp":"A"},{"obs":32.1,"sim":25.1,"grp":"A"},{"obs":34.9,"sim":26.6,"grp":"A"},{"obs":36,"sim":25.2,"grp":"A"},{"obs":35,"sim":21.7,"grp":"A"},{"obs":33,"sim":19.3,"grp":"A"},{"obs":31.8,"sim":17.8,"grp":"A"},{"obs":37.9,"sim":16.6,"grp":"A"},{"obs":39.3,"sim":15,"grp":"A"},{"obs":37.3,"sim":14.6,"grp":"A"},{"obs":43.3,"sim":14.6,"grp":"A"},{"obs":45.1,"sim":15.3,"grp":"A"},{"obs":45.6,"sim":16,"grp":"A"},{"obs":39.3,"sim":4.1,"grp":"A"},{"obs":31.6,"sim":3.8,"grp":"A"},{"obs":30,"sim":3.8,"grp":"A"},{"obs":27.5,"sim":9.9,"grp":"A"},{"obs":26.1,"sim":5,"grp":"A"},{"obs":24.3,"sim":17.8,"grp":"A"},{"obs":23.5,"sim":12.4,"grp":"A"},{"obs":23.3,"sim":11.2,"grp":"A"},{"obs":22.4,"sim":8.5,"grp":"A"},{"obs":22.1,"sim":11.8,"grp":"A"},{"obs":19.7,"sim":8.9,"grp":"A"},{"obs":18.6,"sim":9.5,"grp":"A"},{"obs":18.9,"sim":13.6,"grp":"A"},{"obs":16.6,"sim":17.2,"grp":"A"},{"obs":15.7,"sim":14.4,"grp":"A"},{"obs":14.3,"sim":16.8,"grp":"A"},{"obs":15.3,"sim":18.1,"grp":"A"},{"obs":13.8,"sim":13,"grp":"A"},{"obs":13.8,"sim":9.8,"grp":"A"},{"obs":12.2,"sim":11.6,"grp":"A"},{"obs":12.2,"sim":9.5,"grp":"A"},{"obs":11.7,"sim":13.6,"grp":"A"},{"obs":10.6,"sim":12.2,"grp":"A"},{"obs":7,"sim":15.4,"grp":"A"},{"obs":9.5,"sim":16,"grp":"A"},{"obs":7.7,"sim":18,"grp":"A"},{"obs":7.1,"sim":19.8,"grp":"A"},{"obs":14.1,"sim":4.7,"grp":"A"},{"obs":16.3,"sim":6.3,"grp":"A"},{"obs":16.6,"sim":4.1,"grp":"A"},
    {"obs":0,"sim":19,"grp":"A"},{"obs":0,"sim":15,"grp":"A"},{"obs":0.5,"sim":12,"grp":"A"},{"obs":1,"sim":17,"grp":"A"},{"obs":1.5,"sim":10,"grp":"A"},{"obs":2,"sim":14,"grp":"A"},{"obs":2.5,"sim":8,"grp":"A"},{"obs":3,"sim":12,"grp":"A"},{"obs":3.5,"sim":16,"grp":"A"},{"obs":4,"sim":6,"grp":"A"},{"obs":4.5,"sim":11,"grp":"A"},{"obs":5,"sim":14,"grp":"A"},{"obs":5.5,"sim":4,"grp":"A"},{"obs":6,"sim":9,"grp":"A"},{"obs":6.5,"sim":12,"grp":"A"},{"obs":7,"sim":3,"grp":"A"},{"obs":7.5,"sim":7,"grp":"A"},{"obs":8,"sim":10,"grp":"A"},{"obs":8.5,"sim":2,"grp":"A"},{"obs":9,"sim":5,"grp":"A"},{"obs":10,"sim":8,"grp":"A"},{"obs":11,"sim":3,"grp":"A"},{"obs":12,"sim":1,"grp":"A"},{"obs":13,"sim":5,"grp":"A"},{"obs":14,"sim":2,"grp":"A"},{"obs":15,"sim":1,"grp":"A"},{"obs":16,"sim":3,"grp":"A"},{"obs":0,"sim":8,"grp":"A"},{"obs":0.5,"sim":4,"grp":"A"},{"obs":1,"sim":21,"grp":"A"},
    {"obs":1.4,"sim":19.9,"grp":"B"},{"obs":1.7,"sim":18.3,"grp":"B"},{"obs":1,"sim":16.8,"grp":"B"},{"obs":2.6,"sim":16.2,"grp":"B"},{"obs":2.3,"sim":13.6,"grp":"B"},{"obs":0.8,"sim":12.4,"grp":"B"},{"obs":53.3,"sim":4.1,"grp":"B"},{"obs":45.1,"sim":6.4,"grp":"B"},{"obs":31.8,"sim":11.5,"grp":"B"},{"obs":39.9,"sim":3.2,"grp":"B"},{"obs":28.1,"sim":6.2,"grp":"B"},{"obs":27.2,"sim":3.2,"grp":"B"},{"obs":26.1,"sim":1.5,"grp":"B"},{"obs":25.1,"sim":3.6,"grp":"B"},{"obs":23.5,"sim":3.6,"grp":"B"},{"obs":22.1,"sim":3.6,"grp":"B"},{"obs":21,"sim":0.8,"grp":"B"},{"obs":19.6,"sim":2.4,"grp":"B"},{"obs":18,"sim":3,"grp":"B"},{"obs":16.4,"sim":4.1,"grp":"B"},{"obs":15.7,"sim":0.8,"grp":"B"},{"obs":14.8,"sim":2.4,"grp":"B"},{"obs":12.9,"sim":0.8,"grp":"B"},{"obs":12.5,"sim":4.1,"grp":"B"},{"obs":11.1,"sim":2.6,"grp":"B"},{"obs":7.4,"sim":9.5,"grp":"B"},{"obs":7.9,"sim":6.3,"grp":"B"},{"obs":8.3,"sim":4.5,"grp":"B"},{"obs":5.1,"sim":7.1,"grp":"B"},
    {"obs":0,"sim":0,"grp":"B"},{"obs":0,"sim":3,"grp":"B"},{"obs":0,"sim":6,"grp":"B"},{"obs":0,"sim":9,"grp":"B"},{"obs":0,"sim":12,"grp":"B"},{"obs":0.5,"sim":1.5,"grp":"B"},{"obs":0.5,"sim":14,"grp":"B"},{"obs":1,"sim":4,"grp":"B"},{"obs":1,"sim":8,"grp":"B"},{"obs":1,"sim":11,"grp":"B"},{"obs":1.5,"sim":2,"grp":"B"},{"obs":1.5,"sim":6,"grp":"B"},{"obs":2,"sim":0.5,"grp":"B"},{"obs":2,"sim":9,"grp":"B"},{"obs":2,"sim":12,"grp":"B"},{"obs":2.5,"sim":3,"grp":"B"},{"obs":2.5,"sim":7,"grp":"B"},{"obs":3,"sim":1,"grp":"B"},{"obs":3,"sim":5,"grp":"B"},{"obs":3,"sim":10,"grp":"B"},{"obs":3.5,"sim":3,"grp":"B"},{"obs":4,"sim":0.5,"grp":"B"},{"obs":4,"sim":7,"grp":"B"},{"obs":4.5,"sim":2,"grp":"B"},{"obs":5,"sim":4,"grp":"B"},{"obs":5.5,"sim":1,"grp":"B"},{"obs":6,"sim":3,"grp":"B"},{"obs":6.5,"sim":0.5,"grp":"B"},{"obs":7,"sim":2,"grp":"B"},{"obs":8,"sim":1,"grp":"B"},{"obs":9,"sim":0.5,"grp":"B"},{"obs":10,"sim":1.5,"grp":"B"},{"obs":3,"sim":14,"grp":"B"},{"obs":2,"sim":16,"grp":"B"}
  ]
},
"title": {"text": "Measured (m³/s)", "orient": "bottom", "anchor": "middle", "offset": 23, "fontSize": 19, "fontWeight": "normal", "font": "Liberation Sans", "color": "black", "dx": 16},
"vconcat": [
 {
  "title": {"text": "Simulated (m³/s)", "orient": "left", "anchor": "middle", "offset": 6, "dx": -6, "fontSize": 19, "fontWeight": "normal", "font": "Liberation Sans", "color": "black"},
  "spacing": 19,
  "hconcat": [
   {
    "title": {"text": "Moose Jaw River", "anchor": "middle", "offset": 2, "dx": 15, "fontSize": 24, "fontWeight": "bold", "font": "Liberation Sans", "color": "black"},
    "spacing": 3,
    "vconcat": [
     {"spacing": 8, "hconcat": [
      {"spacing": 0, "vconcat": [
        {"width": 204, "height": 25, "data": {"values": [{"model": "MESH", "v": 100}]}, "view": {"fill": "#d9d9d9", "stroke": "#333333"}, "layer": [
          {"mark": {"type": "text", "fontSize": 12, "color": "#1a1a1a", "baseline": "middle"}, "encoding": {"text": {"field": "model"}}},
          {"mark": {"type": "point", "opacity": 0}, "encoding": {"y": {"field": "v", "type": "quantitative", "scale": {"domain": [0, 200]}, "axis": {"values": [100], "labelOpacity": 0, "tickOpacity": 0, "grid": false}}}}
        ]},
        {"width": 204, "height": 180, "resolve": {"axis": {"x": "independent", "y": "independent"}}, "layer": [
          {"data": {"name": "mj_MESH"}, "mark": {"type": "circle", "size": 30, "opacity": 1}, "encoding": {
            "x": {"field": "obs", "type": "quantitative", "scale": {"domain": [-10, 210], "nice": false, "zero": false}, "axis": {"orient": "bottom", "values": [0, 50, 100, 150, 200], "labels": false, "ticks": false}},
            "y": {"field": "sim", "type": "quantitative", "scale": {"domain": [-11.2, 235.8], "nice": false, "zero": false}, "axis": {"orient": "left", "values": [0, 50, 100, 150, 200]}},
            "color": {"field": "grp", "type": "nominal", "scale": {"domain": ["A", "B"], "range": ["#ff0000", "#0000ff"]}, "legend": null}}},
          {"data": {"name": "mj_line"}, "mark": {"type": "line", "color": "black", "strokeWidth": 2.2, "clip": true}, "encoding": {
            "x": {"field": "obs", "type": "quantitative", "axis": {"orient": "bottom", "values": [25, 75, 125, 175], "labels": false, "ticks": false, "gridWidth": 0.6}},
            "y": {"field": "sim", "type": "quantitative", "axis": {"orient": "left", "values": [25, 75, 125, 175, 225], "labels": false, "ticks": false, "gridWidth": 0.6}}}}
        ]}
      ]},
      {"spacing": 0, "vconcat": [
        {"width": 204, "height": 25, "data": {"values": [{"model": "SWAT_PDLD"}]}, "mark": {"type": "text", "fontSize": 12, "color": "#1a1a1a", "baseline": "middle"}, "encoding": {"text": {"field": "model"}}, "view": {"fill": "#d9d9d9", "stroke": "#333333"}},
        {"width": 204, "height": 180, "resolve": {"axis": {"x": "independent", "y": "independent"}}, "layer": [
          {"data": {"name": "mj_SWAT"}, "mark": {"type": "circle", "size": 30, "opacity": 1}, "encoding": {
            "x": {"field": "obs", "type": "quantitative", "scale": {"domain": [-10, 210], "nice": false, "zero": false}, "axis": {"orient": "bottom", "values": [0, 50, 100, 150, 200], "labels": false, "ticks": false}},
            "y": {"field": "sim", "type": "quantitative", "scale": {"domain": [-11.2, 235.8], "nice": false, "zero": false}, "axis": {"orient": "left", "values": [0, 50, 100, 150, 200], "labels": false, "ticks": false}},
            "color": {"field": "grp", "type": "nominal", "scale": {"domain": ["A", "B"], "range": ["#ff0000", "#0000ff"]}, "legend": null}}},
          {"data": {"name": "mj_line"}, "mark": {"type": "line", "color": "black", "strokeWidth": 2.2, "clip": true}, "encoding": {
            "x": {"field": "obs", "type": "quantitative", "axis": {"orient": "bottom", "values": [25, 75, 125, 175], "labels": false, "ticks": false, "gridWidth": 0.6}},
            "y": {"field": "sim", "type": "quantitative", "axis": {"orient": "left", "values": [25, 75, 125, 175, 225], "labels": false, "ticks": false, "gridWidth": 0.6}}}}
        ]}
      ]}
     ]},
     {"spacing": 8, "hconcat": [
      {"spacing": 0, "vconcat": [
        {"width": 204, "height": 25, "data": {"values": [{"model": "HBV_EC", "v": 100}]}, "view": {"fill": "#d9d9d9", "stroke": "#333333"}, "layer": [
          {"mark": {"type": "text", "fontSize": 12, "color": "#1a1a1a", "baseline": "middle"}, "encoding": {"text": {"field": "model"}}},
          {"mark": {"type": "point", "opacity": 0}, "encoding": {"y": {"field": "v", "type": "quantitative", "scale": {"domain": [0, 200]}, "axis": {"values": [100], "labelOpacity": 0, "tickOpacity": 0, "grid": false}}}}
        ]},
        {"width": 204, "height": 180, "resolve": {"axis": {"x": "independent", "y": "independent"}}, "layer": [
          {"data": {"name": "mj_HBV"}, "mark": {"type": "circle", "size": 30, "opacity": 1}, "encoding": {
            "x": {"field": "obs", "type": "quantitative", "scale": {"domain": [-10, 210], "nice": false, "zero": false}, "axis": {"orient": "bottom", "values": [0, 50, 100, 150, 200], "labelAngle": 270, "labelOffset": 4}},
            "y": {"field": "sim", "type": "quantitative", "scale": {"domain": [-11.2, 235.8], "nice": false, "zero": false}, "axis": {"orient": "left", "values": [0, 50, 100, 150, 200]}},
            "color": {"field": "grp", "type": "nominal", "scale": {"domain": ["A", "B"], "range": ["#ff0000", "#0000ff"]}, "legend": null}}},
          {"data": {"name": "mj_line"}, "mark": {"type": "line", "color": "black", "strokeWidth": 2.2, "clip": true}, "encoding": {
            "x": {"field": "obs", "type": "quantitative", "axis": {"orient": "bottom", "values": [25, 75, 125, 175], "labels": false, "ticks": false, "gridWidth": 0.6}},
            "y": {"field": "sim", "type": "quantitative", "axis": {"orient": "left", "values": [25, 75, 125, 175, 225], "labels": false, "ticks": false, "gridWidth": 0.6}}}}
        ]}
      ]},
      {"spacing": 0, "vconcat": [
        {"width": 204, "height": 25, "data": {"values": [{"model": "VIC"}]}, "mark": {"type": "text", "fontSize": 12, "color": "#1a1a1a", "baseline": "middle"}, "encoding": {"text": {"field": "model"}}, "view": {"fill": "#d9d9d9", "stroke": "#333333"}},
        {"width": 204, "height": 180, "resolve": {"axis": {"x": "independent", "y": "independent"}}, "layer": [
          {"data": {"name": "mj_VIC"}, "mark": {"type": "circle", "size": 30, "opacity": 1}, "encoding": {
            "x": {"field": "obs", "type": "quantitative", "scale": {"domain": [-10, 210], "nice": false, "zero": false}, "axis": {"orient": "bottom", "values": [0, 50, 100, 150, 200], "labelAngle": 270, "labelOffset": 4}},
            "y": {"field": "sim", "type": "quantitative", "scale": {"domain": [-11.2, 235.8], "nice": false, "zero": false}, "axis": {"orient": "left", "values": [0, 50, 100, 150, 200], "labels": false, "ticks": false}},
            "color": {"field": "grp", "type": "nominal", "scale": {"domain": ["A", "B"], "range": ["#ff0000", "#0000ff"]}, "legend": null}}},
          {"data": {"name": "mj_line"}, "mark": {"type": "line", "color": "black", "strokeWidth": 2.2, "clip": true}, "encoding": {
            "x": {"field": "obs", "type": "quantitative", "axis": {"orient": "bottom", "values": [25, 75, 125, 175], "labels": false, "ticks": false, "gridWidth": 0.6}},
            "y": {"field": "sim", "type": "quantitative", "axis": {"orient": "left", "values": [25, 75, 125, 175, 225], "labels": false, "ticks": false, "gridWidth": 0.6}}}}
        ]}
      ]}
     ]}
    ]
   },
   {
    "title": {"text": "Swift Current Creek", "anchor": "middle", "offset": 2, "dx": 17, "fontSize": 24, "fontWeight": "bold", "font": "Liberation Sans", "color": "black"},
    "spacing": 4,
    "vconcat": [
     {"spacing": 8, "hconcat": [
      {"spacing": 0, "vconcat": [
        {"width": 209, "height": 24, "data": {"values": [{"model": "MESH", "v": 20}]}, "view": {"fill": "#d9d9d9", "stroke": "#333333"}, "layer": [
          {"mark": {"type": "text", "fontSize": 12, "color": "#1a1a1a", "baseline": "middle"}, "encoding": {"text": {"field": "model"}}},
          {"mark": {"type": "point", "opacity": 0}, "encoding": {"y": {"field": "v", "type": "quantitative", "scale": {"domain": [0, 40]}, "axis": {"values": [20], "labelOpacity": 0, "tickOpacity": 0, "grid": false}}}}
        ]},
        {"width": 209, "height": 185, "resolve": {"axis": {"x": "independent", "y": "independent"}}, "layer": [
          {"data": {"name": "sc_MESH"}, "mark": {"type": "circle", "size": 30, "opacity": 1}, "encoding": {
            "x": {"field": "obs", "type": "quantitative", "scale": {"domain": [-2.6, 55.1], "nice": false, "zero": false}, "axis": {"orient": "bottom", "values": [0, 10, 20, 30, 40, 50], "labels": false, "ticks": false}},
            "y": {"field": "sim", "type": "quantitative", "scale": {"domain": [-3, 63.2], "nice": false, "zero": false}, "axis": {"orient": "left", "values": [0, 20, 40, 60]}},
            "color": {"field": "grp", "type": "nominal", "scale": {"domain": ["A", "B"], "range": ["#ff0000", "#0000ff"]}, "legend": null}}},
          {"data": {"name": "sc_line"}, "mark": {"type": "line", "color": "black", "strokeWidth": 2.2, "clip": true}, "encoding": {
            "x": {"field": "obs", "type": "quantitative", "axis": {"orient": "bottom", "values": [5, 15, 25, 35, 45, 55], "labels": false, "ticks": false, "gridWidth": 0.6}},
            "y": {"field": "sim", "type": "quantitative", "axis": {"orient": "left", "values": [10, 30, 50], "labels": false, "ticks": false, "gridWidth": 0.6}}}}
        ]}
      ]},
      {"spacing": 0, "vconcat": [
        {"width": 209, "height": 24, "data": {"values": [{"model": "SWAT_PDLD"}]}, "mark": {"type": "text", "fontSize": 12, "color": "#1a1a1a", "baseline": "middle"}, "encoding": {"text": {"field": "model"}}, "view": {"fill": "#d9d9d9", "stroke": "#333333"}},
        {"width": 209, "height": 185, "resolve": {"axis": {"x": "independent", "y": "independent"}}, "layer": [
          {"data": {"name": "sc_SWAT"}, "mark": {"type": "circle", "size": 30, "opacity": 1}, "encoding": {
            "x": {"field": "obs", "type": "quantitative", "scale": {"domain": [-2.6, 55.1], "nice": false, "zero": false}, "axis": {"orient": "bottom", "values": [0, 10, 20, 30, 40, 50], "labels": false, "ticks": false}},
            "y": {"field": "sim", "type": "quantitative", "scale": {"domain": [-3, 63.2], "nice": false, "zero": false}, "axis": {"orient": "left", "values": [0, 20, 40, 60], "labels": false, "ticks": false}},
            "color": {"field": "grp", "type": "nominal", "scale": {"domain": ["A", "B"], "range": ["#ff0000", "#0000ff"]}, "legend": null}}},
          {"data": {"name": "sc_line"}, "mark": {"type": "line", "color": "black", "strokeWidth": 2.2, "clip": true}, "encoding": {
            "x": {"field": "obs", "type": "quantitative", "axis": {"orient": "bottom", "values": [5, 15, 25, 35, 45, 55], "labels": false, "ticks": false, "gridWidth": 0.6}},
            "y": {"field": "sim", "type": "quantitative", "axis": {"orient": "left", "values": [10, 30, 50], "labels": false, "ticks": false, "gridWidth": 0.6}}}}
        ]}
      ]}
     ]},
     {"spacing": 8, "hconcat": [
      {"spacing": 0, "vconcat": [
        {"width": 209, "height": 24, "data": {"values": [{"model": "HBV_EC", "v": 20}]}, "view": {"fill": "#d9d9d9", "stroke": "#333333"}, "layer": [
          {"mark": {"type": "text", "fontSize": 12, "color": "#1a1a1a", "baseline": "middle"}, "encoding": {"text": {"field": "model"}}},
          {"mark": {"type": "point", "opacity": 0}, "encoding": {"y": {"field": "v", "type": "quantitative", "scale": {"domain": [0, 40]}, "axis": {"values": [20], "labelOpacity": 0, "tickOpacity": 0, "grid": false}}}}
        ]},
        {"width": 209, "height": 185, "resolve": {"axis": {"x": "independent", "y": "independent"}}, "layer": [
          {"data": {"name": "sc_HBV"}, "mark": {"type": "circle", "size": 30, "opacity": 1}, "encoding": {
            "x": {"field": "obs", "type": "quantitative", "scale": {"domain": [-2.6, 55.1], "nice": false, "zero": false}, "axis": {"orient": "bottom", "values": [0, 10, 20, 30, 40, 50], "labelAngle": 270, "labelOffset": 4}},
            "y": {"field": "sim", "type": "quantitative", "scale": {"domain": [-3, 63.2], "nice": false, "zero": false}, "axis": {"orient": "left", "values": [0, 20, 40, 60]}},
            "color": {"field": "grp", "type": "nominal", "scale": {"domain": ["A", "B"], "range": ["#ff0000", "#0000ff"]}, "legend": null}}},
          {"data": {"name": "sc_line"}, "mark": {"type": "line", "color": "black", "strokeWidth": 2.2, "clip": true}, "encoding": {
            "x": {"field": "obs", "type": "quantitative", "axis": {"orient": "bottom", "values": [5, 15, 25, 35, 45, 55], "labels": false, "ticks": false, "gridWidth": 0.6}},
            "y": {"field": "sim", "type": "quantitative", "axis": {"orient": "left", "values": [10, 30, 50], "labels": false, "ticks": false, "gridWidth": 0.6}}}}
        ]}
      ]},
      {"spacing": 0, "vconcat": [
        {"width": 209, "height": 24, "data": {"values": [{"model": "VIC"}]}, "mark": {"type": "text", "fontSize": 12, "color": "#1a1a1a", "baseline": "middle"}, "encoding": {"text": {"field": "model"}}, "view": {"fill": "#d9d9d9", "stroke": "#333333"}},
        {"width": 209, "height": 185, "resolve": {"axis": {"x": "independent", "y": "independent"}}, "layer": [
          {"data": {"name": "sc_VIC"}, "mark": {"type": "circle", "size": 30, "opacity": 1}, "encoding": {
            "x": {"field": "obs", "type": "quantitative", "scale": {"domain": [-2.6, 55.1], "nice": false, "zero": false}, "axis": {"orient": "bottom", "values": [0, 10, 20, 30, 40, 50], "labelAngle": 270, "labelOffset": 4}},
            "y": {"field": "sim", "type": "quantitative", "scale": {"domain": [-3, 63.2], "nice": false, "zero": false}, "axis": {"orient": "left", "values": [0, 20, 40, 60], "labels": false, "ticks": false}},
            "color": {"field": "grp", "type": "nominal", "scale": {"domain": ["A", "B"], "range": ["#ff0000", "#0000ff"]}, "legend": null}}},
          {"data": {"name": "sc_line"}, "mark": {"type": "line", "color": "black", "strokeWidth": 2.2, "clip": true}, "encoding": {
            "x": {"field": "obs", "type": "quantitative", "axis": {"orient": "bottom", "values": [5, 15, 25, 35, 45, 55], "labels": false, "ticks": false, "gridWidth": 0.6}},
            "y": {"field": "sim", "type": "quantitative", "axis": {"orient": "left", "values": [10, 30, 50], "labels": false, "ticks": false, "gridWidth": 0.6}}}}
        ]}
      ]}
     ]}
    ]
   }
  ]
 }
]
}
